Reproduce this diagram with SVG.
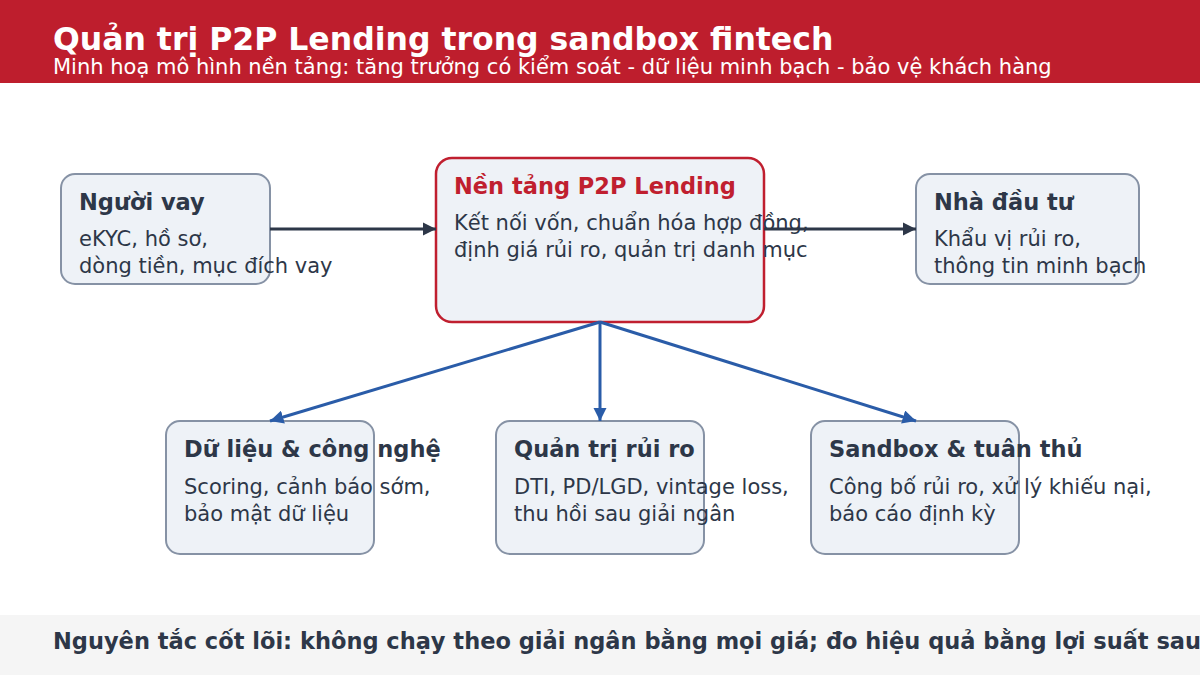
<svg xmlns="http://www.w3.org/2000/svg" width="1200" height="675" viewBox="0 0 1200 675">
<defs>
<marker id="ad" viewBox="0 0 10 10" refX="10" refY="5" markerWidth="4.5" markerHeight="4.5" orient="auto" markerUnits="strokeWidth"><path d="M0,0 L10,5 L0,10 z" fill="#2d3748"/></marker>
<marker id="ab" viewBox="0 0 10 10" refX="10" refY="5" markerWidth="4.5" markerHeight="4.5" orient="auto" markerUnits="strokeWidth"><path d="M0,0 L10,5 L0,10 z" fill="#2a5ca8"/></marker>
<style>
text{font-family:"DejaVu Sans","Noto Sans",sans-serif;}
.box{fill:#eef2f7;stroke:#8692a5;stroke-width:2;}
.hub{fill:#eef2f7;stroke:#c01f2f;stroke-width:2.5;}
.t{font-size:22.5px;font-weight:bold;fill:#2d3748;}
.b{font-size:21px;fill:#2d3748;}
.dk{stroke:#2d3748;stroke-width:3;fill:none;}
.bl{stroke:#2a5ca8;stroke-width:3;fill:none;}
</style>
</defs>
<rect x="0" y="0" width="1200" height="675" fill="#ffffff"/>
<g id="header">
<rect x="0" y="0" width="1200" height="83" fill="#be1e2d"/>
<text x="53" y="50" font-size="31.5" font-weight="bold" fill="#ffffff">Quản trị P2P Lending trong sandbox fintech</text>
<text x="53" y="74" font-size="21" fill="#ffffff">Minh hoạ mô hình nền tảng: tăng trưởng có kiểm soát - dữ liệu minh bạch - bảo vệ khách hàng</text>
</g>
<g id="borrower">
<rect class="box" x="61" y="174" width="209" height="110" rx="14"/>
<text class="t" x="79" y="210">Người vay</text>
<text class="b" x="79" y="246">eKYC, hồ sơ,</text>
<text class="b" x="79" y="273">dòng tiền, mục đích vay</text>
</g>
<g id="platform">
<rect class="hub" x="436" y="158" width="328" height="164" rx="16"/>
<text class="t" x="454" y="194" style="fill:#c01f2f">Nền tảng P2P Lending</text>
<text class="b" x="454" y="230">Kết nối vốn, chuẩn hóa hợp đồng,</text>
<text class="b" x="454" y="257">định giá rủi ro, quản trị danh mục</text>
</g>
<g id="investor">
<rect class="box" x="916" y="174" width="223" height="110" rx="14"/>
<text class="t" x="934" y="210">Nhà đầu tư</text>
<text class="b" x="934" y="246">Khẩu vị rủi ro,</text>
<text class="b" x="934" y="273">thông tin minh bạch</text>
</g>
<g id="data">
<rect class="box" x="166" y="421" width="208" height="133" rx="14"/>
<text class="t" x="184" y="457">Dữ liệu &amp; công nghệ</text>
<text class="b" x="184" y="494">Scoring, cảnh báo sớm,</text>
<text class="b" x="184" y="521">bảo mật dữ liệu</text>
</g>
<g id="risk">
<rect class="box" x="496" y="421" width="208" height="133" rx="14"/>
<text class="t" x="514" y="457">Quản trị rủi ro</text>
<text class="b" x="514" y="494">DTI, PD/LGD, vintage loss,</text>
<text class="b" x="514" y="521">thu hồi sau giải ngân</text>
</g>
<g id="sandbox">
<rect class="box" x="811" y="421" width="208" height="133" rx="14"/>
<text class="t" x="829" y="457">Sandbox &amp; tuân thủ</text>
<text class="b" x="829" y="494">Công bố rủi ro, xử lý khiếu nại,</text>
<text class="b" x="829" y="521">báo cáo định kỳ</text>
</g>
<g id="connectors">
<line class="dk" x1="270" y1="229" x2="436" y2="229" marker-end="url(#ad)"/>
<line class="dk" x1="764" y1="229" x2="916" y2="229" marker-end="url(#ad)"/>
<line class="bl" x1="600" y1="322" x2="270" y2="421" marker-end="url(#ab)"/>
<line class="bl" x1="600" y1="322" x2="600" y2="421" marker-end="url(#ab)"/>
<line class="bl" x1="600" y1="322" x2="916" y2="421" marker-end="url(#ab)"/>
</g>
<g id="footer">
<rect x="0" y="615" width="1200" height="60" fill="#f5f5f5"/>
<text x="53" y="649" font-size="22.5" font-weight="bold" fill="#2d3748">Nguyên tắc cốt lõi: không chạy theo giải ngân bằng mọi giá; đo hiệu quả bằng lợi suất sau rủi ro</text>
</g>
</svg>
